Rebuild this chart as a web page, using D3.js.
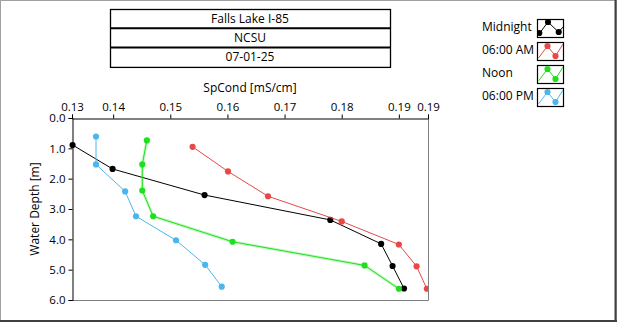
<!DOCTYPE html>
<html>
<head>
<meta charset="utf-8">
<script src="https://cdn.jsdelivr.net/npm/d3@7"></script>
<style>
  html, body { margin: 0; padding: 0; background: #fff; }
  svg { display: block; font-family: "Open Sans", "Noto Sans", sans-serif; }
</style>
</head>
<body>
<svg id="chart" width="620" height="324"></svg>
<script>
// Header rows
const titleRows = ["Falls Lake I-85", "NCSU", "07-01-25"];

// Series (profile casts at four times of day)
const seriesNames = ["Midnight", "06:00 AM", "Noon", "06:00 PM"];
const seriesColors = ["#000000", "#e84848", "#1fe01f", "#4cb6ec"];

// Specific conductance [mS/cm] for each cast
const midnightCond = [0.1329, 0.1399, 0.1560, 0.1780, 0.1869, 0.1889, 0.1909];
const morningCond  = [0.1539, 0.1601, 0.1671, 0.1800, 0.1900, 0.1931, 0.1949];
const noonCond     = [0.1459, 0.1451, 0.1451, 0.1470, 0.1609, 0.1840, 0.1900];
const eveningCond  = [0.1370, 0.1370, 0.1421, 0.1440, 0.1510, 0.1561, 0.1590];

// Water depth [m] for each cast
const midnightDepth = [0.89, 1.68, 2.54, 3.36, 4.15, 4.88, 5.62];
const morningDepth  = [0.95, 1.76, 2.58, 3.41, 4.17, 4.89, 5.63];
const noonDepth     = [0.74, 1.53, 2.39, 3.24, 4.08, 4.86, 5.63];
const eveningDepth  = [0.61, 1.53, 2.42, 3.24, 4.03, 4.84, 5.56];

// Axis ticks
const xTickValues = [0.1328, 0.14, 0.15, 0.16, 0.17, 0.18, 0.19, 0.1951];
const xTickLabels = ["0.13", "0.14", "0.15", "0.16", "0.17", "0.18", "0.19", "0.19"];
const yTickValues = [0, 1, 2, 3, 4, 5, 6];

const condSets = [midnightCond, morningCond, noonCond, eveningCond];
const depthSets = [midnightDepth, morningDepth, noonDepth, eveningDepth];
const series = seriesNames.map((name, i) => ({
  name,
  color: seriesColors[i],
  points: condSets[i].map((c, j) => ({ c, d: depthSets[i][j] }))
}));

const svg = d3.select("#chart");
const tickFont = 11.5;

// Panel border
svg.append("rect").attr("x", 0.5).attr("y", 0.5).attr("width", 616).attr("height", 321)
  .attr("fill", "none").attr("stroke", "#a0a0a0");
svg.append("line").attr("x1", 615.5).attr("x2", 615.5).attr("y1", 0).attr("y2", 322)
  .attr("stroke", "#404040").attr("stroke-width", 2);
svg.append("line").attr("x1", 0).attr("x2", 617).attr("y1", 321).attr("y2", 321)
  .attr("stroke", "#404040").attr("stroke-width", 2);

// Header table
const tbl = { x: 110, y: 9, w: 280, rowH: 19.3 };
const header = svg.append("g");
header.append("rect").attr("x", tbl.x + 0.5).attr("y", tbl.y + 0.5)
  .attr("width", tbl.w).attr("height", tbl.rowH * titleRows.length)
  .attr("fill", "#fff").attr("stroke", "#000").attr("stroke-width", 1.3);
titleRows.forEach((t, i) => {
  if (i > 0) {
    header.append("line").attr("x1", tbl.x).attr("x2", tbl.x + tbl.w + 1)
      .attr("y1", tbl.y + tbl.rowH * i).attr("y2", tbl.y + tbl.rowH * i)
      .attr("stroke", "#000").attr("stroke-width", 2);
  }
  header.append("text").attr("x", tbl.x + tbl.w / 2).attr("y", tbl.y + tbl.rowH * i + tbl.rowH / 2 + 1)
    .attr("text-anchor", "middle").attr("dominant-baseline", "middle")
    .attr("font-size", 12).attr("fill", "#000").text(t);
});

// Plot area
const plot = { left: 72, right: 428, top: 118, bottom: 300 };
const x = d3.scaleLinear().domain([xTickValues[0], xTickValues[xTickValues.length - 1]])
  .range([plot.left, plot.right]);
const y = d3.scaleLinear().domain([0, 6]).range([plot.top, plot.bottom]);

// Right and bottom frame edges
svg.append("path")
  .attr("d", `M${plot.left},${plot.bottom + 0.5}H${plot.right + 0.5}V${plot.top}`)
  .attr("fill", "none").attr("stroke", "#808080").attr("stroke-width", 1);

// X axis along the top
const xAxis = d3.axisTop(x).tickValues(xTickValues)
  .tickFormat((d, i) => xTickLabels[i]).tickSizeOuter(0).tickSize(4).tickPadding(4);
const gx = svg.append("g").attr("transform", `translate(0,${plot.top + 0.5})`).call(xAxis);
gx.select(".domain").attr("stroke", "#000");
gx.selectAll(".tick line").attr("stroke", "#000");
gx.selectAll(".tick text").attr("font-size", tickFont).attr("font-family", "Open Sans, Noto Sans, sans-serif").attr("fill", "#000");

// Y axis on the left
const yAxis = d3.axisLeft(y).tickValues(yTickValues).tickFormat(d3.format(".1f"))
  .tickSizeOuter(0).tickSize(4).tickPadding(3);
const gy = svg.append("g").attr("transform", `translate(${plot.left + 0.5},0)`).call(yAxis);
gy.select(".domain").attr("stroke", "#000");
gy.selectAll(".tick line").attr("stroke", "#000");
gy.selectAll(".tick text").attr("font-size", tickFont).attr("font-family", "Open Sans, Noto Sans, sans-serif").attr("fill", "#000");

// Axis titles
svg.append("text").attr("x", 250).attr("y", 89).attr("text-anchor", "middle")
  .attr("dominant-baseline", "middle").attr("font-size", 12).attr("fill", "#000")
  .text("SpCond [mS/cm]");
svg.append("text").attr("transform", `translate(36,${(plot.top + plot.bottom) / 2}) rotate(-90)`)
  .attr("text-anchor", "middle").attr("dominant-baseline", "middle")
  .attr("font-size", 12).attr("fill", "#000").text("Water Depth [m]");

// Clip series to the plot rectangle (small margin on the left edge)
svg.append("defs").append("clipPath").attr("id", "plotClip")
  .append("rect").attr("x", plot.left - 5).attr("y", plot.top)
  .attr("width", plot.right - plot.left + 5).attr("height", plot.bottom - plot.top);

const line = d3.line().x(p => x(p.c)).y(p => y(p.d));
const marker = d3.symbol().type(d3.symbolCircle).size(30);

const gSeries = svg.append("g").attr("clip-path", "url(#plotClip)");
series.forEach((s, i) => {
  const g = gSeries.append("g");
  if (i === 2) {
    // soft halo under the noon trace
    g.append("path").attr("d", line(s.points)).attr("fill", "none")
      .attr("stroke", s.color).attr("stroke-opacity", 0.25).attr("stroke-width", 3);
  }
  g.append("path").attr("d", line(s.points)).attr("fill", "none")
    .attr("stroke", s.color).attr("stroke-width", 1);
  g.selectAll("path.m").data(s.points).join("path").attr("class", "m")
    .attr("transform", p => `translate(${x(p.c)},${y(p.d)})`)
    .attr("d", marker).attr("fill", s.color);
});

// Legend
const legend = svg.append("g");
const iconLines = [
  [[2, 15], [11, 3], [21.5, 13], [27, 7]],
  [[1.5, 16], [10.5, 4], [18.5, 14], [26, 2]],
  [[1.5, 16], [10.5, 4], [18.5, 14], [26, 2]],
  [[1.5, 16], [10.5, 4], [18.5, 14], [26, 2]]
];
const iconMarks = [
  [[2.3, 14], [11, 3], [21.7, 13]],
  [[10.5, 4], [18.5, 14]],
  [[10.5, 4], [18.5, 14]],
  [[10.5, 4], [18.5, 14]]
];
series.forEach((s, i) => {
  const ty = 19 + i * 23;
  legend.append("text").attr("x", 482).attr("y", ty + 9)
    .attr("dominant-baseline", "middle").attr("font-size", 12).attr("fill", "#000").text(s.name);
  const box = legend.append("g").attr("transform", `translate(537,${ty})`);
  box.append("defs").append("clipPath").attr("id", "lg" + i)
    .append("rect").attr("width", 26).attr("height", 18);
  box.append("rect").attr("x", 0.5).attr("y", 0.5).attr("width", 26).attr("height", 18)
    .attr("fill", "#fff").attr("stroke", "#000").attr("stroke-width", 1.2);
  const inner = box.append("g").attr("clip-path", `url(#lg${i})`);
  inner.append("path").attr("d", d3.line()(iconLines[i])).attr("fill", "none")
    .attr("stroke", s.color).attr("stroke-width", 1);
  iconMarks[i].forEach(m => {
    inner.append("path").attr("transform", `translate(${m[0]},${m[1]})`)
      .attr("d", marker).attr("fill", s.color);
  });
});
</script>
</body>
</html>
